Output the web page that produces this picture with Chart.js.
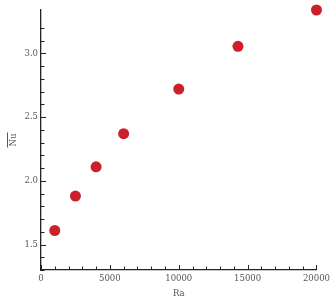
<!DOCTYPE html>
<html>
<head>
<meta charset="utf-8">
<script src="https://cdn.jsdelivr.net/npm/chart.js@4"></script>
<style>
  html, body { margin: 0; padding: 0; background: #fff; }
  #wrap { width: 334px; height: 303px; }
</style>
</head>
<body>
<div id="wrap"><canvas id="nu-chart" width="334" height="303"></canvas></div>
<script>
const raValues = [1000, 2500, 4000, 6000, 10000, 14300, 20000];
const nuValues = [1.61, 1.88, 2.11, 2.37, 2.72, 3.055, 3.34];
const xTicks = [0, 5000, 10000, 15000, 20000];
const yTicks = [1.5, 2.0, 2.5, 3.0];

const FONT = { family: "DejaVu Serif", size: 8.5 };
const TEXT = "#555";
const AXIS = "#222";

// ticks point into the plot, majors longer than minors; also the bar over Nu
const inwardTicks = {
  id: "inwardTicks",
  afterDraw(chart) {
    const ctx = chart.ctx;
    const xs = chart.scales.x;
    const ys = chart.scales.y;
    ctx.save();
    ctx.strokeStyle = AXIS;
    ctx.lineWidth = 1;
    xs.ticks.forEach((t) => {
      const major = xTicks.includes(t.value);
      const px = Math.round(xs.getPixelForValue(t.value)) + 0.5;
      ctx.beginPath();
      ctx.moveTo(px, xs.top);
      ctx.lineTo(px, xs.top - (major ? 5 : 3.5));
      ctx.stroke();
    });
    ys.ticks.forEach((t) => {
      if (Math.abs(t.value * 10 - Math.round(t.value * 10)) > 1e-6) return;
      const major = yTicks.some((v) => Math.abs(v - t.value) < 1e-6);
      const py = Math.round(ys.getPixelForValue(t.value)) + 0.5;
      ctx.beginPath();
      ctx.moveTo(ys.right, py);
      ctx.lineTo(ys.right + (major ? 5 : 3.5), py);
      ctx.stroke();
    });
    // overline for the Nu title
    ctx.font = FONT.size + "px '" + FONT.family + "'";
    const w = ctx.measureText("Nu").width;
    const cy = (ys.top + ys.bottom) / 2;
    ctx.strokeStyle = TEXT;
    ctx.beginPath();
    ctx.moveTo(ys.left + 7.5, cy - w / 2 - 1);
    ctx.lineTo(ys.left + 7.5, cy + w / 2 + 1);
    ctx.stroke();
    ctx.restore();
  }
};

new Chart(document.getElementById("nu-chart"), {
  type: "scatter",
  data: {
    datasets: [{
      data: raValues.map((x, i) => ({ x, y: nuValues[i] })),
      pointRadius: 5.5,
      pointBackgroundColor: "#cc1f2a",
      pointBorderWidth: 0,
      clip: false
    }]
  },
  options: {
    responsive: false,
    animation: false,
    layout: { padding: { left: 0, right: 8, top: 10, bottom: 0 } },
    plugins: { legend: { display: false }, tooltip: { enabled: false } },
    scales: {
      x: {
        min: 0, max: 20000,
        grid: { display: false, drawTicks: false },
        border: { color: AXIS, width: 1.3 },
        ticks: {
          stepSize: 1000, autoSkip: false, maxRotation: 0, padding: 4,
          color: TEXT, font: FONT,
          callback: (v) => (xTicks.includes(v) ? String(v) : "")
        },
        title: { display: true, text: "Ra", color: TEXT, font: FONT, padding: { top: 2, bottom: 4 } },
        afterFit: (s) => { s.height = 33; }
      },
      y: {
        min: 1.3, max: 3.34,
        grid: { display: false, drawTicks: false },
        border: { color: AXIS, width: 1.3 },
        ticks: {
          stepSize: 0.1, autoSkip: false, padding: 3,
          color: TEXT, font: FONT,
          callback: (v) => (yTicks.some((t) => Math.abs(t - v) < 1e-6) ? v.toFixed(1) : "")
        },
        title: { display: true, text: "Nu", color: TEXT, font: FONT, padding: { top: 9, bottom: 0 } },
        afterFit: (s) => { s.width = 41; }
      }
    }
  },
  plugins: [inwardTicks]
});
</script>
</body>
</html>
